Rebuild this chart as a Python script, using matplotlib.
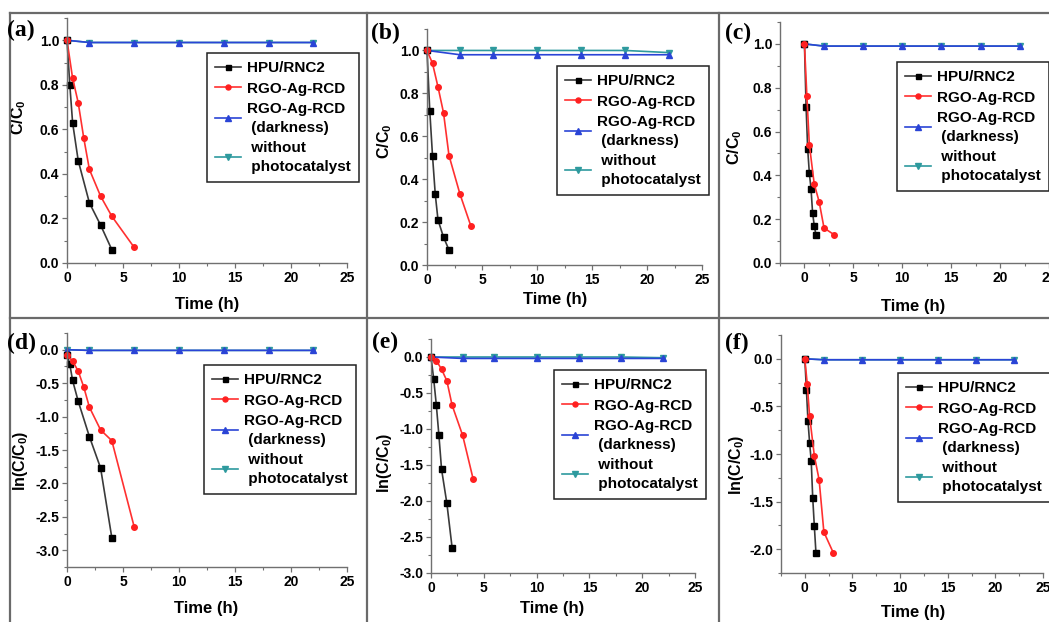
import numpy as np
import matplotlib
matplotlib.use('Agg')
import matplotlib.pyplot as plt
from matplotlib.lines import Line2D
from matplotlib.ticker import MultipleLocator, FormatStrFormatter

plt.rcParams['font.family'] = 'Liberation Sans'
plt.rcParams['font.weight'] = 'bold'
plt.rcParams['axes.unicode_minus'] = False
plt.rcParams['mathtext.fontset'] = 'custom'
plt.rcParams['mathtext.rm'] = 'Liberation Sans:bold'
plt.rcParams['mathtext.default'] = 'rm'

# ---- data: C/C0 vs time ----
t_flat = [0, 2, 6, 10, 14, 18, 22]
t_flat_b = [0, 3, 6, 10, 14, 18, 22]

t_a_hpu = [0, 0.25, 0.5, 1, 2, 3, 4]
c_a_hpu = [1.0, 0.80, 0.63, 0.46, 0.27, 0.17, 0.06]
t_a_rgo = [0, 0.5, 1, 1.5, 2, 3, 4, 6]
c_a_rgo = [1.0, 0.83, 0.72, 0.56, 0.42, 0.30, 0.21, 0.07]
c_a_dark = [1.0, 0.99, 0.99, 0.99, 0.99, 0.99, 0.99]
c_a_none = [1.0, 0.99, 0.99, 0.99, 0.99, 0.99, 0.99]

t_b_hpu = [0, 0.25, 0.5, 0.75, 1, 1.5, 2]
c_b_hpu = [1.0, 0.72, 0.51, 0.33, 0.21, 0.13, 0.07]
t_b_rgo = [0, 0.5, 1, 1.5, 2, 3, 4]
c_b_rgo = [1.0, 0.94, 0.83, 0.71, 0.51, 0.33, 0.18]
c_b_dark = [1.0, 0.98, 0.98, 0.98, 0.98, 0.98, 0.98]
c_b_none = [1.0, 1.0, 1.0, 1.0, 1.0, 1.0, 0.99]

t_c_hpu = [0, 0.17, 0.33, 0.5, 0.67, 0.83, 1.0, 1.17]
c_c_hpu = [1.0, 0.71, 0.52, 0.41, 0.34, 0.23, 0.17, 0.13]
t_c_rgo = [0, 0.25, 0.5, 1, 1.5, 2, 3]
c_c_rgo = [1.0, 0.76, 0.54, 0.36, 0.28, 0.16, 0.13]
c_c_dark = [1.0, 0.99, 0.99, 0.99, 0.99, 0.99, 0.99]
c_c_none = [1.0, 0.99, 0.99, 0.99, 0.99, 0.99, 0.99]

# ---- data: ln(C/C0) vs time ----
ln_d_hpu = [-0.08, -0.22, -0.46, -0.77, -1.30, -1.77, -2.81]
ln_d_rgo = [-0.08, -0.17, -0.32, -0.56, -0.86, -1.20, -1.36, -2.65]
ln_d_dark = [0, -0.01, -0.01, -0.01, -0.01, -0.01, -0.01]
ln_d_none = [0, -0.01, -0.01, -0.01, -0.01, -0.01, -0.01]

ln_e_hpu = [0, -0.30, -0.66, -1.09, -1.56, -2.03, -2.65]
ln_e_rgo = [0, -0.05, -0.17, -0.33, -0.67, -1.09, -1.70]
ln_e_dark = [0, -0.02, -0.02, -0.02, -0.02, -0.02, -0.02]
ln_e_none = [0, 0, 0, 0, 0, 0, -0.01]

ln_f_hpu = [0, -0.33, -0.65, -0.88, -1.07, -1.46, -1.76, -2.04]
ln_f_rgo = [0, -0.26, -0.60, -1.02, -1.27, -1.82, -2.04]
ln_f_dark = [0, -0.01, -0.01, -0.01, -0.01, -0.01, -0.01]
ln_f_none = [0, -0.01, -0.01, -0.01, -0.01, -0.01, -0.01]

labels = ['HPU/RNC2', 'RGO-Ag-RCD', 'RGO-Ag-RCD\n (darkness)', ' without\n photocatalyst']

W, H = 1049, 622
fig = plt.figure(figsize=(W / 100, H / 100), dpi=100)


def px_rect(l, t, r, b):
    return [l / W, 1 - b / H, (r - l) / W, (b - t) / H]


# panel settings: axes box in pixels, limits, tick step, label spots
panels = [
    dict(tag='(a)', box=(67, 18, 347, 263), xlim=(0, 25), ylim=(0, 1.1), ystep=0.2,
         yticks=np.arange(0, 1.01, 0.2), ylab='C/C$_0$', tagxy=(21, 30), xlab=(207, 305),
         ylabxy=(19, 117), leg=(207, 53),
         series=[(t_a_hpu, c_a_hpu), (t_a_rgo, c_a_rgo), (t_flat, c_a_dark), (t_flat, c_a_none)]),
    dict(tag='(b)', box=(427, 29, 702, 265), xlim=(0, 25), ylim=(0, 1.1), ystep=0.2,
         yticks=np.arange(0, 1.01, 0.2), ylab='C/C$_0$', tagxy=(385, 33), xlab=(555, 299),
         ylabxy=(385, 141), leg=(557, 66),
         series=[(t_b_hpu, c_b_hpu), (t_b_rgo, c_b_rgo), (t_flat_b, c_b_dark), (t_flat_b, c_b_none)]),
    dict(tag='(c)', box=(780, 22, 1049, 263), xlim=(-2.5, 25), ylim=(0, 1.1), ystep=0.2,
         yticks=np.arange(0, 1.01, 0.2), ylab='C/C$_0$', tagxy=(738, 33), xlab=(913, 306),
         ylabxy=(735, 147), leg=(897, 62),
         series=[(t_c_hpu, c_c_hpu), (t_c_rgo, c_c_rgo), (t_flat, c_c_dark), (t_flat, c_c_none)]),
    dict(tag='(d)', box=(67, 333, 347, 567), xlim=(0, 25), ylim=(-3.25, 0.25), ystep=0.5,
         yticks=np.arange(-3.0, 0.01, 0.5), ylab='ln(C/C$_0$)', tagxy=(21, 343), xlab=(206, 609),
         ylabxy=(21, 461), leg=(204, 365),
         series=[(t_a_hpu, ln_d_hpu), (t_a_rgo, ln_d_rgo), (t_flat, ln_d_dark), (t_flat, ln_d_none)]),
    dict(tag='(e)', box=(431, 339, 695, 573), xlim=(0, 25), ylim=(-3.0, 0.25), ystep=0.5,
         yticks=np.arange(-3.0, 0.01, 0.5), ylab='ln(C/C$_0$)', tagxy=(385, 342), xlab=(552, 609),
         ylabxy=(385, 463), leg=(554, 370),
         series=[(t_b_hpu, ln_e_hpu), (t_b_rgo, ln_e_rgo), (t_flat_b, ln_e_dark), (t_flat_b, ln_e_none)]),
    dict(tag='(f)', box=(781, 335, 1043, 573), xlim=(-2.5, 25), ylim=(-2.25, 0.25), ystep=0.5,
         yticks=np.arange(-2.0, 0.01, 0.5), ylab='ln(C/C$_0$)', tagxy=(737, 343), xlab=(913, 613),
         ylabxy=(737, 465), leg=(898, 373),
         series=[(t_c_hpu, ln_f_hpu), (t_c_rgo, ln_f_rgo), (t_flat, ln_f_dark), (t_flat, ln_f_none)]),
]

styles = [
    dict(color='#3a3a3a', marker='s', mfc='black', mec='black', ms=4),
    dict(color='#ff3030', marker='o', mfc='#ff2020', mec='#ff2020', ms=4),
    dict(color='#2a44d6', marker='^', mfc='#2a44d6', mec='#2a44d6', ms=4.5),
    dict(color='#2e9a9e', marker='v', mfc='#2e9a9e', mec='#2e9a9e', ms=4.5),
]
draw_order = [3, 2, 0, 1]

spine_col = '#707070'

for p in panels:
    ax = fig.add_axes(px_rect(*p['box']))
    handles = [None] * 4
    for i in draw_order:
        t, v = p['series'][i]
        ln, = ax.plot(t, v, lw=1.2, clip_on=False, **styles[i])
        handles[i] = ln
    ax.set_xlim(*p['xlim'])
    ax.set_ylim(*p['ylim'])
    ax.set_xticks([0, 5, 10, 15, 20, 25])
    ax.xaxis.set_minor_locator(MultipleLocator(2.5))
    ax.set_yticks(p['yticks'])
    ax.yaxis.set_minor_locator(MultipleLocator(p['ystep'] / 2))
    ax.yaxis.set_major_formatter(FormatStrFormatter('%.1f'))
    for s in ['top', 'right']:
        ax.spines[s].set_visible(False)
    for s in ['left', 'bottom']:
        ax.spines[s].set_color(spine_col)
        ax.spines[s].set_linewidth(1.0)
    ax.tick_params(which='major', direction='out', length=3.5, width=0.9, color=spine_col,
                   labelsize=10, pad=2)
    ax.tick_params(which='minor', direction='out', length=2, width=0.8, color=spine_col)

    # axis titles placed in figure pixels
    l, t, r, b = p['box']
    ax.set_xlabel('Time (h)', fontsize=12, fontweight='bold')
    ax.xaxis.label.set_va('center')
    ax.xaxis.set_label_coords((p['xlab'][0] - l) / (r - l), (b - p['xlab'][1]) / (b - t))
    ax.set_ylabel(p['ylab'], fontsize=11.5, fontweight='bold')
    ax.yaxis.label.set_va('center')
    ax.yaxis.set_label_coords((p['ylabxy'][0] - l) / (r - l), (b - p['ylabxy'][1]) / (b - t))

    leg = ax.legend(handles, labels, loc='upper left',
                    bbox_to_anchor=(p['leg'][0] / W, 1 - p['leg'][1] / H),
                    bbox_transform=fig.transFigure, borderaxespad=0,
                    fancybox=False, framealpha=1, edgecolor='#222222',
                    prop={'weight': 'bold', 'size': 11}, handlelength=1.7,
                    handletextpad=0.35, labelspacing=0.4, borderpad=0.55,
                    markerscale=0.9)
    for txt in leg.get_texts():
        txt.set_linespacing(1.45)
    leg.get_frame().set_linewidth(1.1)

    fig.text(p['tagxy'][0] / W, 1 - p['tagxy'][1] / H, p['tag'], family='Liberation Serif',
             fontweight='bold', fontsize=17, ha='center', va='center')

# panel frame grid
frame_kw = dict(color='#6a6a6a', lw=1.6, transform=fig.transFigure)
fig.add_artist(Line2D([9.5 / W, 1], [1 - 13 / H, 1 - 13 / H], **frame_kw))
fig.add_artist(Line2D([9.5 / W, 1], [1 - 318 / H, 1 - 318 / H], **frame_kw))
for xv in [9.5, 367, 719]:
    fig.add_artist(Line2D([xv / W, xv / W], [0, 1 - 13 / H], **frame_kw))

fig.savefig('out.png', dpi=100)
